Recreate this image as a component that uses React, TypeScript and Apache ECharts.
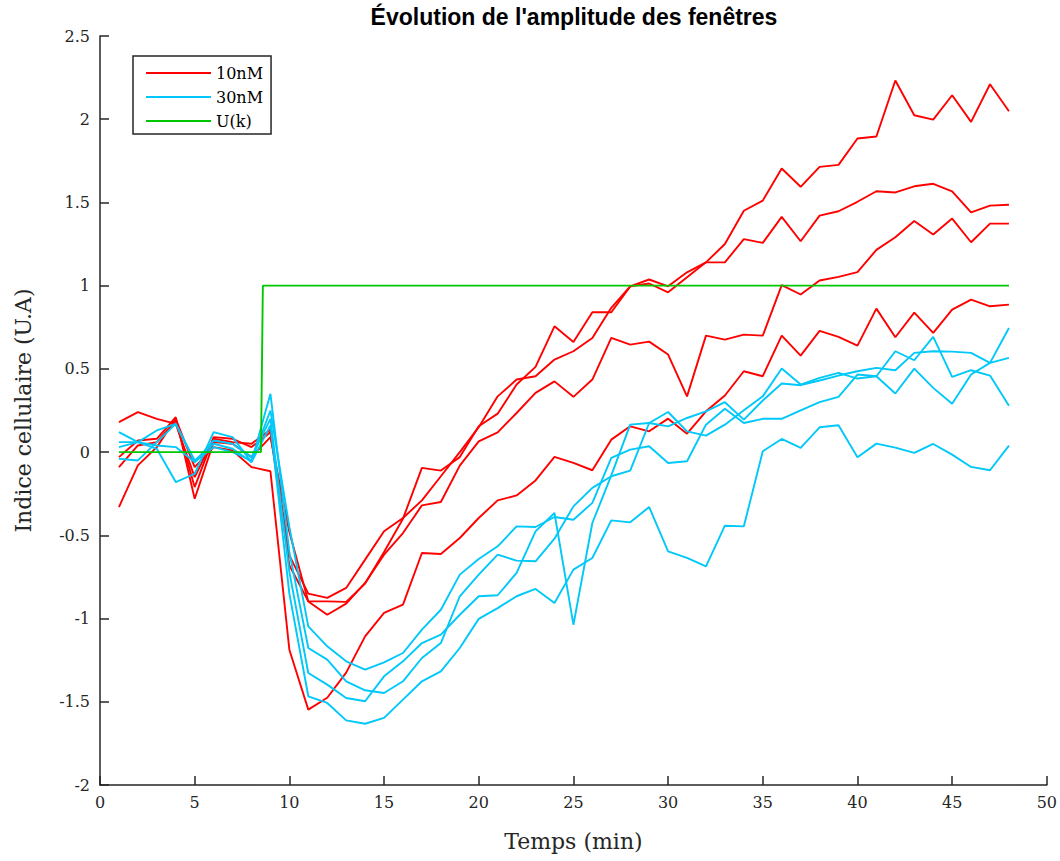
import React, { useEffect, useRef } from "react";
import * as echarts from "echarts";

const TIME = [1, 2, 3, 4, 5, 6, 7, 8, 9, 10, 11, 12, 13, 14, 15, 16, 17, 18, 19, 20, 21, 22, 23, 24, 25, 26, 27, 28, 29, 30, 31, 32, 33, 34, 35, 36, 37, 38, 39, 40, 41, 42, 43, 44, 45, 46, 47, 48];

const RED_A = [0.18, 0.24, 0.2, 0.17, -0.15, 0.08, 0.06, 0.05, 0.135,
  -0.62, -0.85, -0.876, -0.816, -0.646, -0.476, -0.396, -0.29, -0.145, 0.0,
  0.15, 0.335, 0.436, 0.456, 0.556, 0.606, 0.686, 0.867, 0.996, 1.037,
  0.996, 1.08, 1.14, 1.25, 1.45, 1.511, 1.704, 1.594, 1.714, 1.726,
  1.884, 1.896, 2.233, 2.024, 1.998, 2.144, 1.984, 2.21, 2.048];
const RED_B = [-0.03, 0.07, 0.08, 0.21, -0.28, 0.06, 0.05, -0.03, 0.09,
  -0.48, -0.897, -0.897, -0.9, -0.79, -0.6, -0.4, -0.095, -0.111, -0.03,
  0.155, 0.231, 0.406, 0.512, 0.756, 0.662, 0.84, 0.84, 0.996, 1.013,
  0.96, 1.05, 1.14, 1.14, 1.28, 1.257, 1.413, 1.267, 1.421, 1.447,
  1.504, 1.567, 1.56, 1.597, 1.612, 1.567, 1.44, 1.481, 1.486];
const RED_C = [-0.09, 0.04, 0.06, 0.19, -0.21, 0.09, 0.08, 0.03, 0.12,
  -0.68, -0.897, -0.977, -0.91, -0.786, -0.616, -0.486, -0.32, -0.3, -0.081,
  0.065, 0.119, 0.235, 0.356, 0.425, 0.332, 0.436, 0.686, 0.646, 0.664,
  0.586, 0.335, 0.7, 0.676, 0.706, 0.7, 1.003, 0.947, 1.031, 1.053,
  1.081, 1.215, 1.291, 1.389, 1.307, 1.403, 1.261, 1.373, 1.373];
const RED_D = [-0.33, -0.08, 0.03, 0.2, -0.09, 0.03, 0.01, -0.09, -0.115,
  -1.187, -1.547, -1.476, -1.325, -1.107, -0.966, -0.916, -0.606, -0.612, -0.516,
  -0.396, -0.29, -0.26, -0.17, -0.029, -0.065, -0.109, 0.075, 0.155, 0.125,
  0.201, 0.111, 0.245, 0.34, 0.486, 0.456, 0.7, 0.58, 0.728, 0.692,
  0.64, 0.862, 0.69, 0.838, 0.716, 0.856, 0.916, 0.876, 0.886];

const CYAN_A = [0.06, 0.06, 0.04, 0.03, -0.06, 0.03, 0.0, -0.05, 0.25,
  -0.45, -1.047, -1.167, -1.257, -1.307, -1.263, -1.207, -1.067, -0.947, -0.736,
  -0.642, -0.566, -0.446, -0.45, -0.39, -0.406, -0.305, -0.035, 0.015, 0.035,
  -0.065, -0.055, 0.165, 0.26, 0.175, 0.2, 0.2, 0.251, 0.3, 0.332,
  0.466, 0.456, 0.352, 0.502, 0.386, 0.291, 0.466, 0.536, 0.566];
const CYAN_B = [0.12, 0.06, 0.02, -0.18, -0.13, 0.12, 0.09, -0.06, 0.35,
  -0.6, -1.177, -1.247, -1.377, -1.431, -1.447, -1.377, -1.237, -1.147, -0.866,
  -0.736, -0.616, -0.652, -0.656, -0.52, -0.326, -0.215, -0.145, -0.111, 0.175,
  0.155, 0.205, 0.245, 0.3, 0.195, 0.31, 0.412, 0.402, 0.43, 0.46,
  0.486, 0.506, 0.492, 0.596, 0.606, 0.604, 0.596, 0.536, 0.746];
const CYAN_C = [0.03, 0.06, 0.13, 0.17, -0.06, 0.07, 0.05, -0.03, 0.2,
  -0.72, -1.327, -1.397, -1.477, -1.497, -1.347, -1.257, -1.147, -1.097, -0.977,
  -0.866, -0.86, -0.726, -0.476, -0.366, -1.037, -0.426, -0.14, 0.165, 0.175,
  0.241, 0.125, 0.099, 0.165, 0.251, 0.335, 0.502, 0.406, 0.446, 0.476,
  0.442, 0.456, 0.606, 0.552, 0.692, 0.452, 0.492, 0.46, 0.279];
const CYAN_D = [-0.04, -0.05, 0.06, 0.17, -0.05, 0.05, 0.02, -0.06, 0.16,
  -0.85, -1.467, -1.507, -1.612, -1.632, -1.597, -1.487, -1.377, -1.317, -1.177,
  -1.002, -0.937, -0.866, -0.822, -0.906, -0.706, -0.636, -0.41, -0.422, -0.33,
  -0.596, -0.636, -0.686, -0.442, -0.446, 0.005, 0.079, 0.025, 0.149, 0.161,
  -0.031, 0.051, 0.027, -0.005, 0.049, -0.015, -0.089, -0.109, 0.039];

const U_TIME = [1, 8.5, 8.6, 48];
const U_VALUES = [0, 0, 1, 1];

const RED_SERIES = [RED_A, RED_B, RED_C, RED_D];
const CYAN_SERIES = [CYAN_A, CYAN_B, CYAN_C, CYAN_D];
const LEGEND_NAMES = ["10nM", "30nM", "U(k)"];

const RED = "#ff0000";
const CYAN = "#00c8f8";
const GREEN = "#00c800";
const AXIS = "#262626";
const SERIF = "DejaVu Serif";

export default function App() {
  const ref = useRef<HTMLDivElement>(null);

  useEffect(() => {
    if (!ref.current) return;
    const chart = echarts.init(ref.current, undefined, { renderer: "svg" });

    const mk = (name: string, color: string, xs: number[], ys: number[]) => ({
      name,
      type: "line",
      data: xs.map((x, i) => [x, ys[i]]),
      showSymbol: false,
      symbol: "none",
      lineStyle: { color, width: 1.9 },
      itemStyle: { color },
      emphasis: { disabled: true },
    });

    const series: any[] = [];
    RED_SERIES.forEach((s) => series.push(mk(LEGEND_NAMES[0], RED, TIME, s)));
    CYAN_SERIES.forEach((s) => series.push(mk(LEGEND_NAMES[1], CYAN, TIME, s)));
    series.push(mk(LEGEND_NAMES[2], GREEN, U_TIME, U_VALUES));

    chart.setOption({
      animation: false,
      backgroundColor: "#ffffff",
      grid: { left: 100, right: 13, top: 36, bottom: 76, containLabel: false },
      xAxis: {
        type: "value",
        min: 0,
        max: 50,
        interval: 5,
        name: "Temps (min)",
        nameLocation: "middle",
        nameGap: 45,
        nameTextStyle: { fontFamily: SERIF, fontSize: 22, color: AXIS },
        axisLine: { show: true, onZero: false, lineStyle: { color: AXIS, width: 1.5 } },
        axisTick: { show: true, inside: true, length: 9, lineStyle: { color: AXIS, width: 1.5 } },
        axisLabel: { fontFamily: SERIF, fontSize: 16, color: AXIS, margin: 9 },
        splitLine: { show: false },
      },
      yAxis: {
        type: "value",
        min: -2,
        max: 2.5,
        interval: 0.5,
        name: "Indice cellulaire (U.A)",
        nameLocation: "middle",
        nameGap: 66,
        nameTextStyle: { fontFamily: SERIF, fontSize: 22, color: AXIS },
        axisLine: { show: true, onZero: false, lineStyle: { color: AXIS, width: 1.5 } },
        axisTick: { show: true, inside: true, length: 9, lineStyle: { color: AXIS, width: 1.5 } },
        axisLabel: { fontFamily: SERIF, fontSize: 16, color: AXIS, margin: 10 },
        splitLine: { show: false },
      },
      legend: {
        data: LEGEND_NAMES,
        orient: "vertical",
        left: 133,
        top: 56,
        icon: "rect",
        itemWidth: 65,
        itemHeight: 2,
        itemGap: 8,
        padding: [9, 8, 5, 13],
        borderColor: AXIS,
        borderWidth: 1.5,
        backgroundColor: "#ffffff",
        textStyle: { fontFamily: SERIF, fontSize: 16, color: "#000", lineHeight: 16 },
        selectedMode: false,
      },
      graphic: [
        {
          type: "text",
          x: 574,
          y: 17,
          style: {
            text: "Évolution de l'amplitude des fenêtres",
            fontFamily: "Liberation Sans",
            fontWeight: "bold",
            fontSize: 23,
            fill: "#000",
            textAlign: "center",
            textVerticalAlign: "middle",
          },
        },
      ],
      series,
    });

    return () => chart.dispose();
  }, []);

  return (
    <div
      ref={ref}
      style={{ position: "fixed", left: 0, top: 0, width: 1060, height: 861, background: "#fff" }}
    />
  );
}
